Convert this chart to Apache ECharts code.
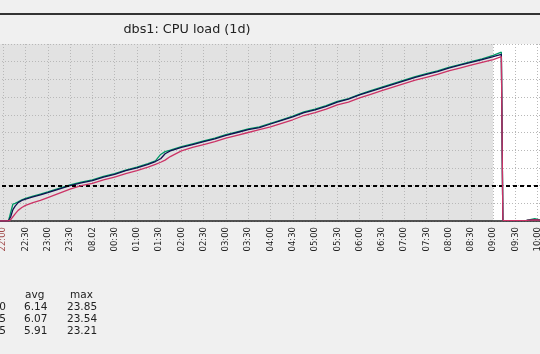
<!DOCTYPE html>
<html>
<head>
<meta charset="utf-8">
<script src="https://cdn.jsdelivr.net/npm/echarts@6/dist/echarts.min.js"></script>
<style>
  html, body { margin: 0; padding: 0; background: #f0f0f0; }
  #chart { width: 540px; height: 354px; }
</style>
</head>
<body>
<div id="chart"></div>
<script>
// minutes since 22:00
var times = [-20, 7, 10, 13, 16, 20, 25, 30, 40, 50, 60, 75, 90, 105, 120, 135, 150, 165, 180, 195, 205, 212, 218, 225, 240, 255, 270, 285, 300, 315, 330, 345, 360, 375, 390, 405, 420, 435, 450, 465, 480, 495, 510, 525, 540, 555, 570, 585, 600, 615, 630, 645, 660, 671, 673, 690, 705, 716, 725, 745];
var load1 = [0, 0, 1.2, 2.4, 2.5, 2.7, 3.0, 3.2, 3.5, 3.8, 4.1, 4.6, 5.1, 5.5, 5.8, 6.3, 6.7, 7.2, 7.6, 8.1, 8.5, 9.4, 9.8, 10.0, 10.5, 10.9, 11.3, 11.7, 12.2, 12.6, 13.0, 13.3, 13.8, 14.3, 14.8, 15.4, 15.8, 16.3, 16.9, 17.3, 17.9, 18.4, 18.9, 19.4, 19.9, 20.4, 20.8, 21.2, 21.7, 22.1, 22.5, 22.9, 23.4, 23.85, 0.1, 0.05, 0.1, 0.35, 0.1, 0.05];
var load5 = [0, 0, 0.6, 1.6, 2.1, 2.6, 2.9, 3.1, 3.4, 3.7, 4.0, 4.5, 5.0, 5.4, 5.7, 6.2, 6.6, 7.1, 7.5, 8.0, 8.4, 8.8, 9.5, 9.9, 10.4, 10.8, 11.2, 11.6, 12.1, 12.5, 12.9, 13.2, 13.7, 14.2, 14.7, 15.3, 15.7, 16.2, 16.8, 17.2, 17.8, 18.3, 18.8, 19.3, 19.8, 20.3, 20.7, 21.1, 21.6, 22.0, 22.4, 22.8, 23.2, 23.54, 0.1, 0.05, 0.1, 0.2, 0.1, 0.05];
var load15 = [0, 0, 0.2, 0.6, 1.0, 1.5, 1.9, 2.2, 2.6, 2.9, 3.3, 3.9, 4.5, 5.0, 5.3, 5.8, 6.2, 6.7, 7.1, 7.6, 8.0, 8.3, 8.6, 9.1, 9.9, 10.4, 10.8, 11.2, 11.7, 12.1, 12.5, 12.9, 13.3, 13.8, 14.3, 14.9, 15.3, 15.8, 16.4, 16.8, 17.4, 17.9, 18.4, 18.9, 19.4, 19.9, 20.3, 20.7, 21.2, 21.6, 22.0, 22.4, 22.8, 23.21, 0.1, 0.05, 0.1, 0.15, 0.1, 0.05];
var tickLabels = ['21:30', '22:00', '22:30', '23:00', '23:30', '08.02', '00:30', '01:00', '01:30', '02:00', '02:30', '03:00', '03:30', '04:00', '04:30', '05:00', '05:30', '06:00', '06:30', '07:00', '07:30', '08:00', '08:30', '09:00', '09:30', '10:00', '10:30'];
var threshold = 5;
var workStart = 660; // 09:00
var statHeads = ['avg', 'max'];
var statMin = ['0.00', '0.05', '0.05'];
var statAvg = ['6.14', '6.07', '5.91'];
var statMax = ['23.85', '23.54', '23.21'];

function pairs(vals) {
  return times.map(function (t, i) { return [t, vals[i]]; });
}

var chart = echarts.init(document.getElementById('chart'));

var dotted = { color: '#b8b8b8', width: 1, type: [1, 2] };
var txt = { fontFamily: 'DejaVu Sans', fontSize: 10.5, fill: '#222' };

var graphics = [
  { type: 'rect', shape: { x: 0, y: 13, width: 540, height: 2 }, style: { fill: '#333' } },
  { type: 'text', x: 187, y: 23, style: { text: 'dbs1: CPU load (1d)', fontFamily: 'DejaVu Sans', fontSize: 12.8, fill: '#222', align: 'center' } },
  { type: 'text', x: 25, y: 290, style: Object.assign({ text: statHeads[0] }, txt) },
  { type: 'text', x: 70, y: 290, style: Object.assign({ text: statHeads[1] }, txt) }
];
for (var i = 0; i < 3; i++) {
  var yy = 302 + i * 12;
  graphics.push({ type: 'text', x: 6, y: yy, style: Object.assign({ text: statMin[i], align: 'right' }, txt) });
  graphics.push({ type: 'text', x: 24, y: yy, style: Object.assign({ text: statAvg[i] }, txt) });
  graphics.push({ type: 'text', x: 67, y: yy, style: Object.assign({ text: statMax[i] }, txt) });
}

chart.setOption({
  backgroundColor: '#f0f0f0',
  animation: false,
  grid: {
    left: -19, right: -20, top: 44, bottom: 133,
    containLabel: false, outerBoundsMode: 'none'
  },
  xAxis: {
    type: 'value', min: -30, max: 750, interval: 30,
    axisLine: { show: true, lineStyle: { color: '#222', width: 1.5 } },
    axisTick: { show: false },
    splitLine: { show: true, lineStyle: dotted },
    axisLabel: {
      rotate: 90, margin: 6, fontSize: 8.5, fontFamily: 'DejaVu Sans',
      formatter: function (v) { return tickLabels[Math.round((v + 30) / 30)] || ''; },
      color: function (v) {
        var s = tickLabels[Math.round((v + 30) / 30)] || '';
        return (s.slice(-3) === ':00' || s.indexOf('.') > 0) ? '#a04a4a' : '#222';
      }
    }
  },
  yAxis: {
    type: 'value', min: 0, max: 25, interval: 2.5,
    axisLabel: { show: false }, axisLine: { show: false }, axisTick: { show: false },
    splitLine: { show: true, lineStyle: dotted }
  },
  graphic: graphics,
  series: [
    {
      // background bands: non-working time gray, working time white
      type: 'line', data: [], z: -1, silent: true,
      markArea: {
        silent: true, z: -1,
        data: [
          [{ xAxis: -30, itemStyle: { color: '#e2e2e2' } }, { xAxis: workStart }],
          [{ xAxis: workStart, itemStyle: { color: '#ffffff' } }, { xAxis: 750 }]
        ]
      }
    },
    {
      type: 'line', data: pairs(load1), symbol: 'none', z: 3,
      lineStyle: { color: '#009966', width: 1.3 }
    },
    {
      type: 'line', data: pairs(load5), symbol: 'none', z: 4,
      lineStyle: { color: '#101050', width: 1.3 }
    },
    {
      type: 'line', data: pairs(load15), symbol: 'none', z: 5,
      lineStyle: { color: '#cc3366', width: 1.3 },
      markLine: {
        silent: true, symbol: 'none', label: { show: false },
        lineStyle: { color: '#000', width: 2, type: [4, 3] },
        data: [{ yAxis: threshold }]
      }
    }
  ]
});
</script>
</body>
</html>
